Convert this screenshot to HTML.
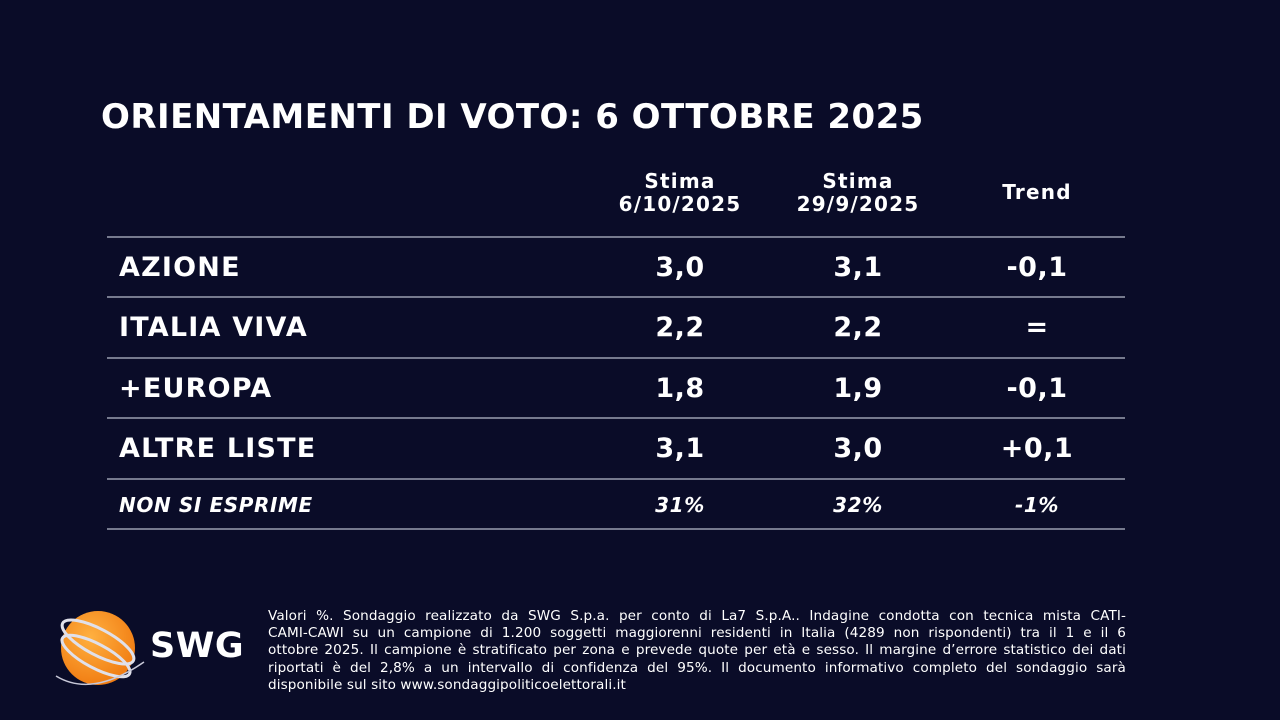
<!DOCTYPE html>
<html><head><meta charset="utf-8"><style>
*{margin:0;padding:0;box-sizing:border-box}
body{width:1280px;height:720px;background:#0a0c28;font-family:"DejaVu Sans","Liberation Sans",sans-serif;color:#fff;position:relative;overflow:hidden}
.a{position:absolute;white-space:nowrap}
.t{left:101px;top:97px;font-size:34px;font-weight:bold;letter-spacing:0.45px}
.h{font-size:20px;font-weight:bold;text-align:center;width:220px;line-height:23px;letter-spacing:1.2px}
.line{position:absolute;left:107px;width:1018px;height:2px;background:#767a8e}
.r{font-size:27px;font-weight:bold;letter-spacing:1.2px}
.n{font-size:27px;font-weight:bold;text-align:center;width:200px;letter-spacing:0.5px}
.i{font-style:italic;font-size:20px;letter-spacing:0.6px}
.f{left:268px;top:608px;width:858px;font-size:13.6px;line-height:17.2px;white-space:normal;color:#fff;letter-spacing:0.1px}
.f div{text-align:justify;text-align-last:justify;white-space:nowrap}
.f div.l{text-align-last:left}
</style></head><body>
<div class="a t">ORIENTAMENTI DI VOTO: 6 OTTOBRE 2025</div>
<div class="a h" style="left:570px;top:170px">Stima<br>6/10/2025</div>
<div class="a h" style="left:748px;top:170px">Stima<br>29/9/2025</div>
<div class="a h" style="left:927px;top:181px">Trend</div>
<div class="line" style="top:236px"></div>
<div class="line" style="top:296px"></div>
<div class="line" style="top:357px"></div>
<div class="line" style="top:417px"></div>
<div class="line" style="top:478px"></div>
<div class="line" style="top:528px"></div>

<div class="a r" style="left:119px;top:252px">AZIONE</div>
<div class="a n" style="left:580px;top:252px">3,0</div>
<div class="a n" style="left:758px;top:252px">3,1</div>
<div class="a n" style="left:937px;top:252px">-0,1</div>

<div class="a r" style="left:119px;top:312px">ITALIA VIVA</div>
<div class="a n" style="left:580px;top:312px">2,2</div>
<div class="a n" style="left:758px;top:312px">2,2</div>
<div class="a n" style="left:937px;top:312px">=</div>

<div class="a r" style="left:119px;top:373px">+EUROPA</div>
<div class="a n" style="left:580px;top:373px">1,8</div>
<div class="a n" style="left:758px;top:373px">1,9</div>
<div class="a n" style="left:937px;top:373px">-0,1</div>

<div class="a r" style="left:119px;top:433px">ALTRE LISTE</div>
<div class="a n" style="left:580px;top:433px">3,1</div>
<div class="a n" style="left:758px;top:433px">3,0</div>
<div class="a n" style="left:937px;top:433px">+0,1</div>

<div class="a r i" style="left:119px;top:493px">NON SI ESPRIME</div>
<div class="a n i" style="left:580px;top:493px">31%</div>
<div class="a n i" style="left:758px;top:493px">32%</div>
<div class="a n i" style="left:937px;top:493px">-1%</div>

<svg class="a" style="left:52px;top:606px" width="100" height="84" viewBox="0 0 100 84">
<defs><radialGradient id="g" cx="0.4" cy="0.35" r="0.7"><stop offset="0" stop-color="#ffb040"/><stop offset="1" stop-color="#f07a10"/></radialGradient></defs>
<circle cx="46" cy="42" r="37" fill="url(#g)"/>
<g fill="none" stroke="#e0e0ea" stroke-width="3">
<ellipse cx="46" cy="36" rx="40" ry="13" transform="rotate(28 46 36)"/>
<ellipse cx="44" cy="50" rx="38" ry="12" transform="rotate(28 44 50)"/>
</g>
<path d="M4 70 Q40 92 92 56" stroke="#c8c8d8" stroke-width="1.5" fill="none"/>
</svg>
<div class="a" style="left:150px;top:626px;font-size:35px;font-weight:bold;letter-spacing:0.5px">SWG</div>

<div class="a f">
<div>Valori %. Sondaggio realizzato da SWG S.p.a. per conto di La7 S.p.A.. Indagine condotta con tecnica mista CATI-</div>
<div>CAMI-CAWI su un campione di 1.200 soggetti maggiorenni residenti in Italia (4289 non rispondenti) tra il 1 e il 6</div>
<div>ottobre 2025. Il campione è stratificato per zona e prevede quote per età e sesso. Il margine d’errore statistico dei dati</div>
<div>riportati è del 2,8% a un intervallo di confidenza del 95%. Il documento informativo completo del sondaggio sarà</div>
<div class="l">disponibile sul sito www.sondaggipoliticoelettorali.it</div>
</div>
</body></html>
